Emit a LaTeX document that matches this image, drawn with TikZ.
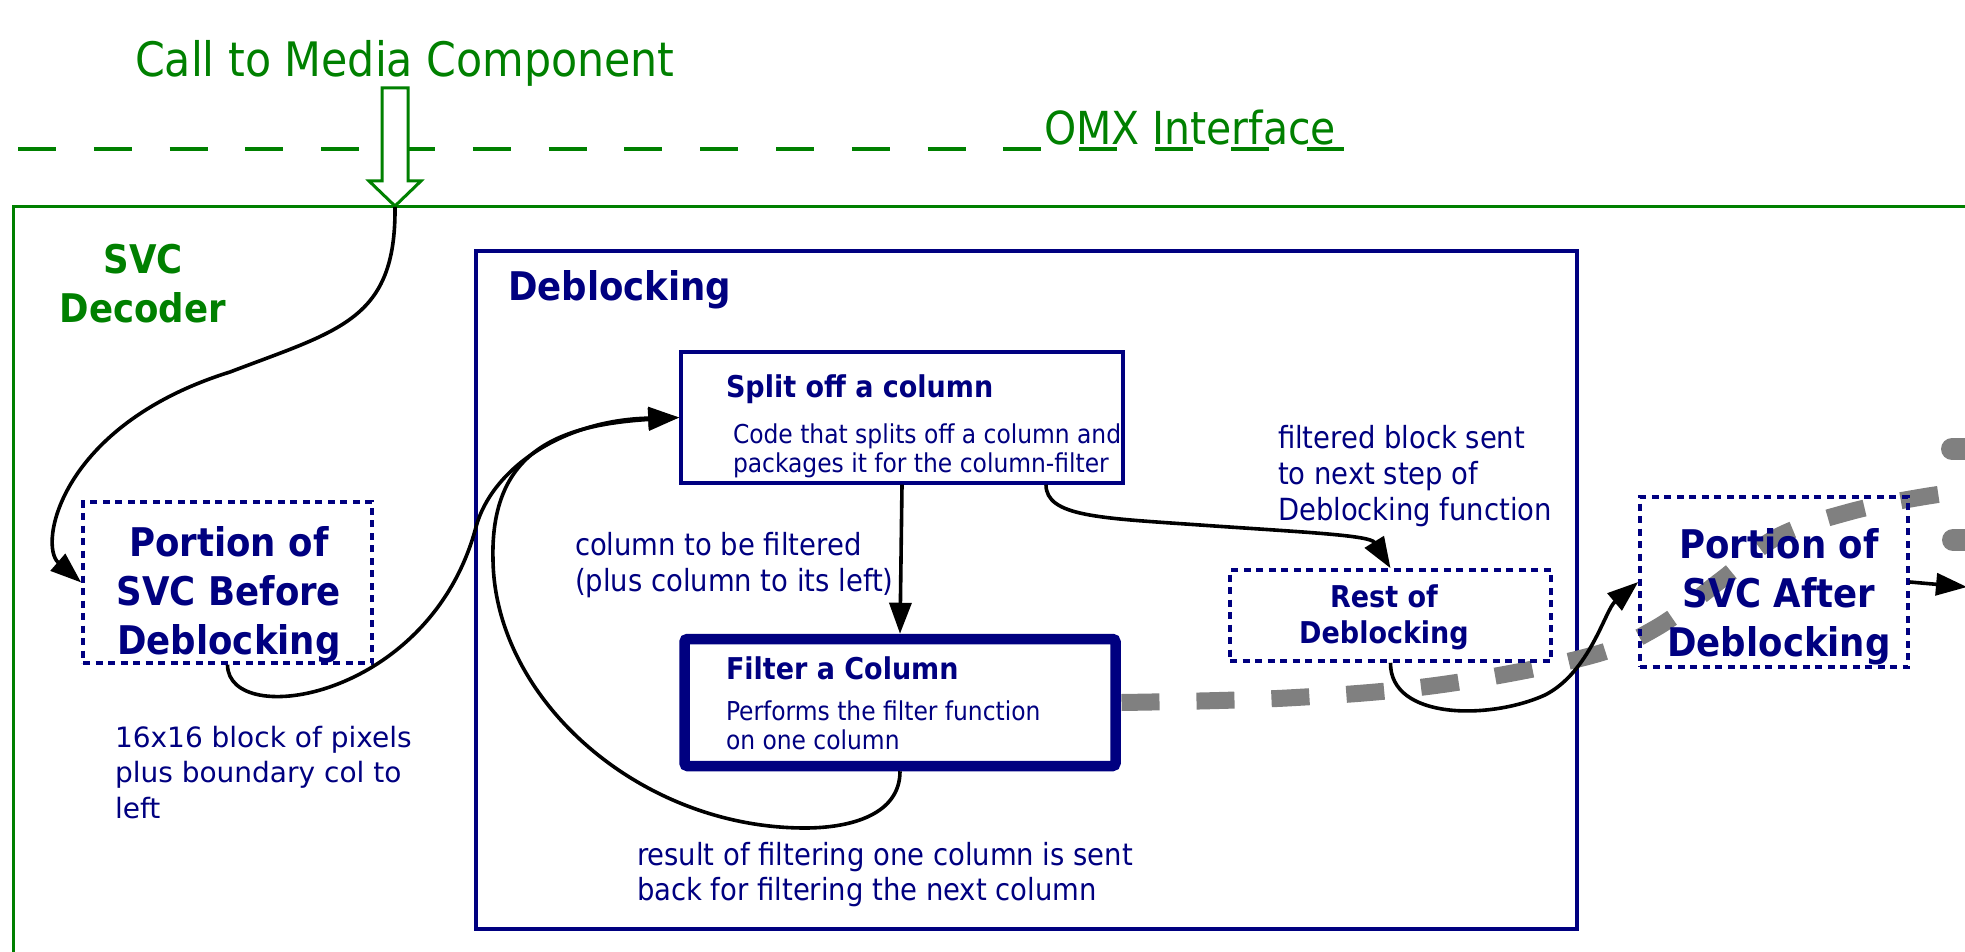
\documentclass[tikz,border=0pt]{standalone}
\usepackage{fontspec}
\setmainfont{DejaVu Sans Condensed}
\newfontfamily\plainsans{DejaVu Sans}
\usetikzlibrary{arrows.meta,fit,calc}
\definecolor{omxgreen}{RGB}{0,128,0}
\definecolor{navyblue}{RGB}{0,0,128}
\definecolor{flowgray}{RGB}{128,128,128}

% multi-line text whose baseline is that of its first line
\newcommand{\stackL}[2]{\vtop{\baselineskip=#1\lineskiplimit=0pt\lineskip=0pt\halign{##\hfil\cr#2\crcr}}}
\newcommand{\stackC}[2]{\vtop{\baselineskip=#1\lineskiplimit=0pt\lineskip=0pt\halign{\hfil##\hfil\cr#2\crcr}}}

\begin{document}
\begin{tikzpicture}[x=0.5pt,y=-0.5pt,
  lbl/.style={inner sep=0pt, outer sep=0pt},
  callstyle/.style={lbl, text=omxgreen, font=\fontsize{23.75pt}{28pt}\selectfont},
  omxstyle/.style={lbl, text=omxgreen, font=\fontsize{22.75pt}{27pt}\selectfont},
  greenbold/.style={lbl, text=omxgreen, font=\bfseries\fontsize{19.75pt}{24.5pt}\selectfont},
  bigbold/.style={lbl, text=navyblue, font=\bfseries\fontsize{19.75pt}{24.5pt}\selectfont},
  subbold/.style={lbl, text=navyblue, font=\bfseries\fontsize{15pt}{18pt}\selectfont},
  desc/.style={lbl, text=navyblue, font=\fontsize{13pt}{14.5pt}\selectfont},
  note/.style={lbl, text=navyblue, font=\fontsize{15.25pt}{18pt}\selectfont},
  leftnote/.style={lbl, text=navyblue, font=\plainsans\fontsize{14pt}{17.75pt}\selectfont},
  dashbox/.style={draw=navyblue, line width=1.8pt, dash pattern=on 3.5pt off 2.75pt, inner sep=0pt},
  solidbox/.style={draw=navyblue, line width=1.7pt, inner sep=0pt},
  thickbox/.style={draw=navyblue, line width=5.25pt, rounded corners=1.5pt, inner sep=0pt},
  conn/.style={draw=black, line width=1.8pt},
  arrowed/.style={-{Triangle[length=15.5pt,width=11pt]}},
  grayflow/.style={draw=flowgray, line width=8.5pt, dash pattern=on 19pt off 18.5pt}
]
\useasboundingbox (0,0) rectangle (1965,952);

% ---- OMX interface line and the call into the component
\draw[omxgreen, line width=1.7pt, dash pattern=on 19pt off 18.9pt] (18,149) -- (1344,149);
\node[omxstyle, anchor=base west] (omxtext) at (1044,145) {OMX Interface};
\node[callstyle, anchor=base west] (calltext) at (135,77) {Call to Media Component};

% ---- SVC decoder container
\draw[omxgreen, line width=1.5pt] (13,1000) -- (13,207) -- (1990,207);
\node[greenbold, anchor=base] (svctext) at (143,274) {\stackC{24.5pt}{SVC\cr Decoder}};

% hollow call arrow
\draw[omxgreen, fill=white, line width=1.5pt, line join=miter]
  (382,88) -- (408,88) -- (408,181) -- (421,181) -- (395,206) -- (369,181) -- (382,181) -- cycle;
\coordinate (calltip) at (395,207);

% ---- Deblocking block
\node[solidbox, fit={(476,251) (1577,929)}] (deb) {};
\node[bigbold, anchor=base west] (debtitle) at (508,300) {Deblocking};

% data flow leaving the column filter
\draw[grayflow] plot[smooth, tension=0.6] coordinates {(1121.5,702.5) (1287,698) (1439,685) (1586,657) (1656,628) (1721,580) (1777,537) (1849,512) (1922,497) (1995,487)};
\draw[flowgray, line width=11pt, line cap=round] (1952,449) -- (1980,449);
\draw[flowgray, line width=11pt, line cap=round] (1953,540) -- (1980,540);

% ---- boxes
\node[dashbox, fit={(83,502) (372,663)}] (before) {};
\node[dashbox, fit={(1640,497) (1908,667)}] (after) {};
\node[dashbox, fit={(1230,570) (1551,661)}] (rest) {};
\node[solidbox, fit={(681,352) (1123,483)}] (split) {};
\node[thickbox, fit={(684.5,639) (1115.5,766)}] (filter) {};

% ---- box texts
\node[bigbold, anchor=base] (beforetext) at (229,556) {\stackC{24.5pt}{Portion of\cr SVC Before\cr Deblocking}};
\node[bigbold, anchor=base] (aftertext) at (1779,558) {\stackC{24.5pt}{Portion of\cr SVC After\cr Deblocking}};
\node[subbold, anchor=base] (resttext) at (1384,607) {\stackC{18pt}{Rest of\cr Deblocking}};
\node[subbold, anchor=base west] (splittitle) at (726,397) {Split off a column};
\node[desc, anchor=base west] (splitdesc) at (733,443) {\stackL{14.5pt}{Code that splits off a column and\cr packages it for the column-filter}};
\node[subbold, anchor=base west] (filtertitle) at (726,679) {Filter a Column};
\node[desc, anchor=base west] (filterdesc) at (726,720) {\stackL{14.5pt}{Performs the filter function\cr on one column}};

% ---- annotations
\node[note, anchor=base west] (colnote) at (575,555) {\stackL{18pt}{column to be filtered\cr (plus column to its left)}};
\node[note, anchor=base west] (blocknote) at (1278,448) {\stackL{18pt}{filtered block sent\cr to next step of\cr Deblocking function}};
\node[note, anchor=base west] (resultnote) at (637,865) {\stackL{17.5pt}{result of filtering one column is sent\cr back for filtering the next column}};
\node[leftnote, anchor=base west] (pixnote) at (115,747) {\stackL{17.75pt}{16x16 block of pixels\cr plus boundary col to\cr left}};

% ---- connectors
\coordinate (exitpt) at (1967,587);
\draw[conn, arrowed] (calltip) .. controls (396,320) and (340,330) .. (230,372)
  .. controls (60,425) and (38,545) .. (before.west);
\draw[conn, arrowed] (before.south) .. controls (228,730) and (430,700) .. (476,527)
  .. controls (491,471) and (560,420) .. (split.west);
\draw[conn, arrowed] (filter.south) .. controls (900,815) and (850,828) .. (805,828)
  .. controls (640,828) and (495,700) .. (493,560)
  .. controls (490,450) and (560,425) .. (split.west);
\draw[conn, arrowed] (split.south) -- (filter.north);
\draw[conn, arrowed] ($(split.south)+(144,0)$) .. controls +(0,32) and (1100,518) .. (1200,525)
  .. controls (1300,532) and (1370,535) .. (rest.north);
\draw[conn, arrowed] (rest.south) .. controls (1390,720) and (1490,720) .. (1545,695)
  .. controls (1590,672) and (1605,610) .. (after.west);
\draw[conn, arrowed] (after.east) -- (exitpt);
\end{tikzpicture}
\end{document}
